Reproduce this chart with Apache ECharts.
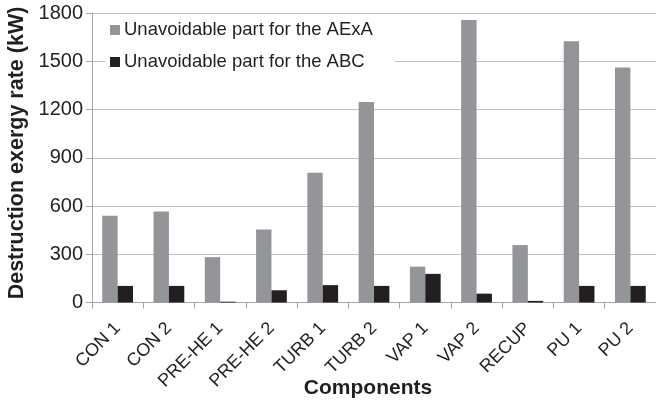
<!DOCTYPE html>
<html>
<head>
<meta charset="utf-8">
<script src="https://cdn.jsdelivr.net/npm/echarts@6/dist/echarts.min.js"></script>
<style>
  html, body { margin: 0; padding: 0; background: #fff; }
  #chart { width: 656px; height: 403px; }
</style>
</head>
<body>
<div id="chart"></div>
<script>
// Components of the cycle
const categories = ['CON 1', 'CON 2', 'PRE-HE 1', 'PRE-HE 2', 'TURB 1', 'TURB 2',
                    'VAP 1', 'VAP 2', 'RECUP', 'PU 1', 'PU 2'];

// Unavoidable exergy destruction (kW)
const aexaValues = [540, 566, 282, 454, 806, 1246, 223, 1756, 357, 1625, 1461];
const abcValues  = [103, 103, 5, 76, 108, 103, 178, 55, 10, 103, 103];

const seriesNames = ['Unavoidable part for the AExA', 'Unavoidable part for the ABC'];

const yTicks = { min: 0, max: 1800, interval: 300 };

const FONT = '"Liberation Sans", Arial, sans-serif';
const TEXT = '#231f20';

const chart = echarts.init(document.getElementById('chart'), null, { renderer: 'canvas' });

chart.setOption({
  animation: false,
  backgroundColor: '#ffffff',
  grid: { left: 92, right: 0, top: 13, bottom: 100.5, containLabel: false },
  legend: {
    orient: 'vertical',
    left: 105,
    top: 16,
    padding: [4, 22, 4, 5],
    backgroundColor: '#ffffff',
    itemWidth: 10,
    itemHeight: 10,
    itemGap: 12,
    icon: 'rect',
    textStyle: { fontFamily: FONT, fontSize: 18.5, color: TEXT, lineHeight: 20, padding: [0, 0, 0, -1] },
    data: seriesNames
  },
  xAxis: {
    type: 'category',
    data: categories,
    axisLine: { show: true, lineStyle: { color: '#a6a6a6', width: 1 } },
    axisTick: { show: true, length: 6, lineStyle: { color: '#a6a6a6' } },
    axisLabel: { rotate: 45, margin: 23, fontFamily: FONT, fontSize: 18, color: TEXT, interval: 0 },
    splitLine: { show: false }
  },
  yAxis: {
    type: 'value',
    min: yTicks.min,
    max: yTicks.max,
    interval: yTicks.interval,
    axisLine: { show: true, lineStyle: { color: '#a6a6a6', width: 1 } },
    axisTick: { show: true, length: 6, lineStyle: { color: '#a6a6a6' } },
    axisLabel: { margin: 9, fontFamily: FONT, fontSize: 20, color: TEXT, formatter: (v) => String(v) },
    splitLine: { show: true, lineStyle: { color: '#c0c0c0', width: 1 } }
  },
  series: [
    {
      name: seriesNames[0],
      type: 'bar',
      data: aexaValues,
      barWidth: '30%',
      barGap: '0%',
      itemStyle: { color: '#939598' }
    },
    {
      name: seriesNames[1],
      type: 'bar',
      data: abcValues,
      barWidth: '30%',
      barGap: '0%',
      itemStyle: { color: '#231f20' }
    }
  ],
  graphic: [
    {
      type: 'text',
      x: 17,
      y: 153,
      rotation: Math.PI / 2,
      style: {
        text: 'Destruction exergy rate (kW)',
        fontFamily: FONT,
        fontWeight: 'bold',
        fontSize: 21.5,
        fill: TEXT,
        textAlign: 'center',
        textVerticalAlign: 'middle'
      }
    },
    {
      type: 'text',
      x: 368,
      y: 388,
      style: {
        text: 'Components',
        fontFamily: FONT,
        fontWeight: 'bold',
        fontSize: 21,
        fill: TEXT,
        textAlign: 'center',
        textVerticalAlign: 'middle'
      }
    }
  ]
});
</script>
</body>
</html>
